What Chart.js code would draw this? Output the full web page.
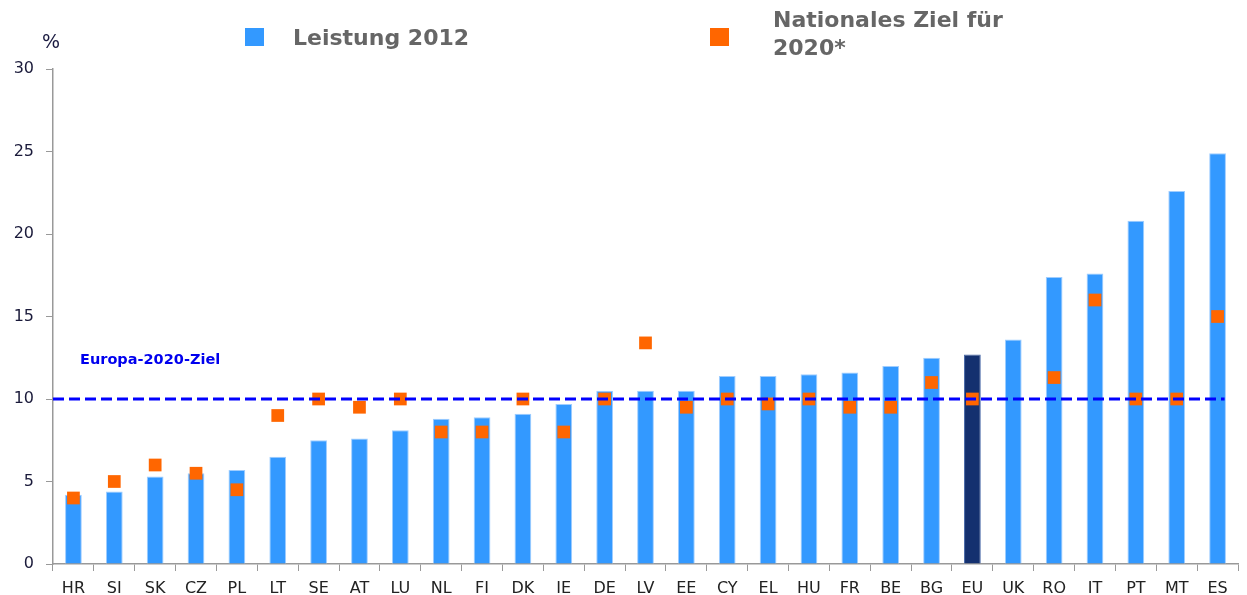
<!DOCTYPE html>
<html>
<head>
<meta charset="utf-8">
<script src="https://cdn.jsdelivr.net/npm/chart.js@4"></script>
<style>
  body { margin: 0; background: #fff; }
  #wrap { position: relative; width: 1247px; height: 595px; }
  .leg { position: absolute; font: bold 22px "DejaVu Sans", Verdana, sans-serif; color: #666; line-height: 28px; }
  .box { position: absolute; width: 19px; height: 18px; }
</style>
</head>
<body>
<div id="wrap">
  <canvas id="chart" width="1247" height="595"></canvas>
  <div class="box" style="left:245px;top:28px;background:#3399FF"></div>
  <div class="leg" style="left:293px;top:24px">Leistung 2012</div>
  <div class="box" style="left:710px;top:28px;background:#FF6600"></div>
  <div class="leg" style="left:773px;top:6px;width:270px">Nationales Ziel für 2020*</div>
</div>
<script>
// Länder (sortiert nach Leistung 2012)
const categories = ['HR', 'SI', 'SK', 'CZ', 'PL', 'LT', 'SE', 'AT', 'LU', 'NL', 'FI', 'DK', 'IE', 'DE', 'LV',
  'EE', 'CY', 'EL', 'HU', 'FR', 'BE', 'BG', 'EU', 'UK', 'RO', 'IT', 'PT', 'MT', 'ES'];

// Leistung 2012 in %
const leistung2012 = [4.2, 4.4, 5.3, 5.5, 5.7, 6.5, 7.5, 7.6, 8.1, 8.8, 8.9, 9.1, 9.7, 10.5, 10.5,
  10.5, 11.4, 11.4, 11.5, 11.6, 12.0, 12.5, 12.7, 13.6, 17.4, 17.6, 20.8, 22.6, 24.9];

// Nationales Ziel für 2020 in % (UK ohne Ziel)
const nationalesZiel = [4, 5, 6, 5.5, 4.5, 9, 10, 9.5, 10, 8, 8, 10, 8, 10, 13.4,
  9.5, 10, 9.7, 10, 9.5, 9.5, 11, 10, null, 11.3, 16, 10, 10, 15];

// Europa-2020-Ziel
const europaZiel = 10;

const yMax = 30;
const yStep = 5;

// Linie + Beschriftungen
const referenceLine = {
  id: 'referenceLine',
  afterDatasetsDraw(chart) {
    const { ctx, chartArea, scales: { x, y } } = chart;
    const py = y.getPixelForValue(europaZiel);
    ctx.save();
    ctx.strokeStyle = '#0000FF';
    ctx.lineWidth = 3;
    ctx.setLineDash([11, 5]);
    ctx.beginPath();
    ctx.moveTo(chartArea.left, py);
    ctx.lineTo(x.getPixelForValue(categories.length - 1) + 7, py);
    ctx.stroke();
    ctx.setLineDash([]);

    ctx.fillStyle = '#0000EE';
    ctx.font = 'bold 14.5px "DejaVu Sans"';
    ctx.textBaseline = 'middle';
    ctx.fillText('Europa-2020-Ziel', chartArea.left + 27, y.getPixelForValue(12.36));

    ctx.fillStyle = '#1a1a40';
    ctx.font = '19px "DejaVu Sans"';
    ctx.textAlign = 'center';
    ctx.fillText('%', chartArea.left - 2, chartArea.top - 26);
    ctx.restore();
  }
};

const ctx = document.getElementById('chart').getContext('2d');

new Chart(ctx, {
  type: 'bar',
  data: {
    labels: categories,
    datasets: [
      {
        type: 'line',
        label: 'Nationales Ziel für 2020*',
        data: nationalesZiel,
        showLine: false,
        pointStyle: 'rect',
        pointRadius: 9,
        pointBackgroundColor: '#FF6600',
        pointBorderWidth: 0,
        order: 1
      },
      {
        label: 'Leistung 2012',
        data: leistung2012,
        backgroundColor: categories.map(c => c === 'EU' ? '#14306F' : '#3399FF'),
        borderColor: categories.map(c => c === 'EU' ? '#4a6aa8' : '#9fcdff'),
        borderWidth: 1,
        barPercentage: 0.41,
        categoryPercentage: 1,
        order: 2
      }
    ]
  },
  options: {
    responsive: false,
    animation: false,
    devicePixelRatio: 1,
    layout: { padding: { top: 69, right: 5, left: 0, bottom: 0 } },
    plugins: {
      legend: { display: false },
      tooltip: { enabled: false }
    },
    scales: {
      x: {
        offset: true,
        grid: { display: true, drawOnChartArea: false, offset: true, tickLength: 7, color: '#999' },
        border: { color: '#999', width: 1.5 },
        ticks: { font: { family: 'DejaVu Sans', size: 16 }, color: '#222', padding: 8, maxRotation: 0, autoSkip: false },
        afterFit: s => { s.height = 31; }
      },
      y: {
        min: 0,
        max: yMax,
        grid: { display: true, drawOnChartArea: false, tickLength: 7, color: '#999' },
        border: { color: '#999', width: 1.5 },
        ticks: { stepSize: yStep, font: { family: 'DejaVu Sans', size: 16 }, color: '#1a1a3a', padding: 12 },
        afterFit: s => { s.width = 53; }
      }
    }
  },
  plugins: [referenceLine]
});
</script>
</body>
</html>
